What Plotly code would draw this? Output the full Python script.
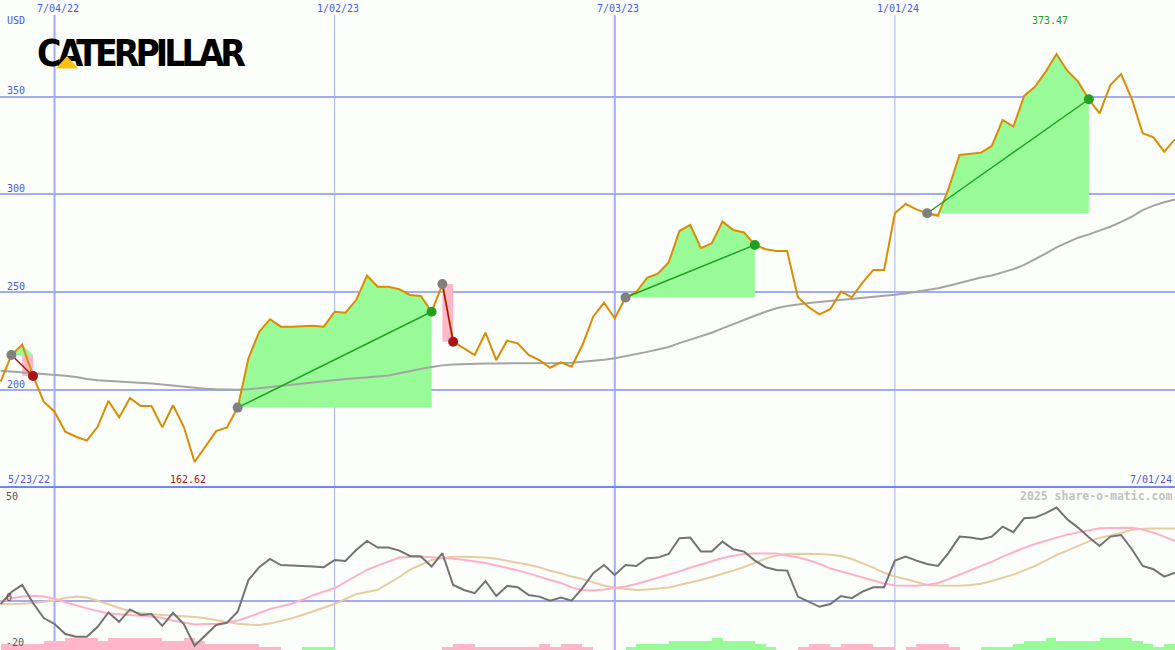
import pandas as pd
import plotly.graph_objects as go

# ---------------- data ----------------
weeks = pd.date_range("2022-05-30", periods=110, freq="7D")

price = [204.3, 217.9, 223.2, 207.2, 194.0, 188.9, 178.7, 176.1, 174.1, 181.2,
         194.5, 186.0, 195.9, 191.8, 191.8, 180.9, 192.2, 181.2, 163.2, 171.0,
         179.0, 180.9, 191.0, 216.2, 229.8, 236.2, 232.4, 232.4, 232.6, 232.9,
         232.4, 240.0, 239.5, 246.0, 258.5, 252.8, 252.8, 251.5, 248.6, 248.1,
         240.0, 254.2, 224.7, 221.3, 217.9, 229.3, 215.3, 225.2, 223.9, 217.9,
         215.3, 211.4, 214.2, 211.9, 223.0, 237.5, 244.6, 236.7, 247.3, 250.1,
         257.4, 259.5, 265.2, 281.3, 284.4, 272.5, 275.0, 286.1, 281.8, 280.6,
         274.2, 272.0, 271.1, 271.1, 247.4, 242.3, 238.7, 241.3, 250.3, 247.4,
         254.9, 261.4, 261.4, 290.4, 295.1, 292.4, 290.4, 289.1, 303.2, 320.2,
         320.7, 321.4, 324.8, 338.1, 334.7, 350.4, 355.1, 362.8, 371.8, 363.3,
         357.7, 348.7, 341.5, 356.0, 361.6, 348.7, 331.3, 329.2, 321.9, 328.2]

ma200 = [209.9, 209.5, 209.2, 208.8, 208.4, 208.0, 207.3, 206.6, 205.6, 205.0,
         204.7, 204.3, 204.0, 203.6, 203.3, 202.8, 202.2, 201.6, 201.0, 200.7,
         200.4, 200.2, 200.1, 200.4, 201.0, 201.6, 202.2, 202.8, 203.4, 204.0,
         204.6, 205.1, 205.6, 206.0, 206.4, 206.8, 207.4, 208.6, 209.8, 210.8,
         211.8, 212.6, 213.0, 213.3, 213.5, 213.6, 213.6, 213.6, 213.6, 213.6,
         213.6, 213.7, 213.8, 214.0, 214.4, 214.9, 215.5, 216.2, 217.2, 218.3,
         219.5, 220.7, 222.0, 224.0, 225.8, 227.5, 229.3, 231.5, 233.8, 236.0,
         238.0, 240.0, 241.8, 243.0, 243.8, 244.5, 245.0, 245.5, 246.0, 246.5,
         247.1, 247.7, 248.2, 248.7, 249.4, 250.2, 251.0, 252.0, 253.3, 254.8,
         256.2, 257.5, 258.6, 260.0, 261.8, 264.0, 266.8, 269.8, 272.9, 275.6,
         277.9, 279.6, 281.4, 283.5, 286.0, 288.7, 292.0, 294.3, 296.0, 297.5]

osc_main = [-1.5, 4.5, 8.0, -1.0, -8.5, -11.5, -16.5, -17.9, -17.9, -12.9,
            -5.7, -10.4, -4.2, -7.0, -6.5, -12.4, -5.9, -11.5, -22.4, -17.0,
            -12.0, -10.9, -5.4, 10.5, 16.9, 21.0, 18.0, 17.8, 17.7, 17.3,
            16.9, 20.5, 20.0, 25.5, 30.0, 26.7, 26.7, 25.2, 22.5, 22.2,
            17.2, 23.9, 8.0, 5.5, 3.9, 10.0, 2.5, 7.5, 6.9, 3.0,
            2.2, 0.2, 1.7, 0.2, 6.4, 13.9, 18.0, 13.0, 18.0, 17.5,
            21.4, 21.7, 23.5, 31.4, 31.7, 24.7, 24.7, 29.7, 25.9, 24.7,
            20.2, 16.9, 15.5, 15.2, 2.2, -0.4, -2.9, -1.5, 2.5, 1.4,
            4.7, 6.9, 6.9, 20.2, 22.2, 20.2, 18.5, 17.5, 24.2, 32.2,
            31.8, 30.9, 32.2, 37.2, 34.4, 41.4, 41.7, 43.9, 46.7, 40.9,
            36.7, 31.9, 27.5, 32.2, 33.0, 25.9, 17.5, 15.9, 12.2, 14.2]

osc_pink = [-0.2, 1.4, 2.2, 2.6, 2.2, 1.2, -0.6, -2.2, -3.7, -5.0,
            -6.2, -6.6, -6.9, -7.2, -7.7, -8.4, -9.8, -10.8, -11.8, -11.5,
            -11.5, -10.8, -9.8, -8.0, -6.0, -4.0, -2.7, -1.4, 0.6, 2.9,
            4.7, 6.5, 9.5, 12.6, 15.5, 17.7, 19.7, 21.7, 22.0, 22.2,
            21.9, 21.6, 21.1, 20.6, 19.8, 19.0, 17.8, 16.7, 15.3, 13.8,
            12.0, 10.5, 9.0, 6.8, 5.5, 5.2, 5.7, 6.4, 7.3, 8.5,
            10.0, 11.5, 13.2, 14.8, 16.6, 18.2, 20.0, 21.5, 22.6, 23.5,
            23.8, 23.8, 23.8, 22.7, 21.8, 20.4, 18.6, 16.3, 14.8, 13.2,
            11.9, 10.5, 8.8, 7.8, 7.6, 7.6, 8.1, 9.0, 11.0, 13.2,
            15.2, 17.3, 19.7, 22.2, 24.6, 26.6, 28.5, 30.2, 31.7, 33.2,
            34.2, 35.5, 36.4, 36.5, 36.6, 36.6, 35.7, 34.2, 32.2, 30.0]

osc_tan = [-1.5, -1.5, -1.4, -1.0, -0.5, 0.2, 1.5, 2.3, 1.7, 0.2,
           -1.6, -3.5, -5.1, -6.1, -6.7, -7.0, -7.2, -7.5, -8.0, -8.6,
           -9.5, -10.6, -11.4, -11.8, -12.0, -11.2, -10.1, -8.7, -7.0, -5.1,
           -3.2, -1.5, 1.0, 3.4, 4.5, 5.6, 8.8, 12.0, 15.7, 18.0,
           20.5, 21.5, 22.1, 22.1, 22.0, 21.8, 21.1, 20.2, 19.2, 18.1,
           16.9, 15.1, 13.8, 12.2, 11.0, 9.4, 7.7, 6.6, 5.9, 5.5,
           5.7, 6.2, 6.8, 8.0, 9.2, 10.5, 12.0, 13.5, 15.2, 17.0,
           19.2, 21.2, 22.7, 23.5, 23.6, 23.6, 23.5, 23.1, 22.5, 21.0,
           19.0, 16.7, 14.1, 12.2, 11.0, 9.5, 8.0, 7.7, 7.6, 7.6,
           8.0, 8.6, 10.0, 11.5, 13.2, 15.3, 17.5, 20.2, 23.0, 25.2,
           27.5, 29.8, 31.5, 32.7, 34.0, 35.6, 36.1, 36.2, 36.3, 36.3]

osc_hist = [-3.0, -3.0, -3.0, -3.0, -4.5, -4.5, -6.0, -6.0, -6.0, -4.5,
            -6.0, -6.0, -6.0, -6.0, -6.0, -4.5, -4.5, -6.0, -4.5, -3.0,
            -3.0, -3.0, -3.0, -3.0, -1.5, -1.5, 0.0, 0.0, 1.5, 1.5,
            1.5, 0.0, 0.0, 0.0, 0.0, 0.0, 0.0, 0.0, 0.0, 0.0,
            0.0, -1.5, -3.0, -3.0, -1.5, -1.5, -1.5, -1.5, -1.5, -1.5,
            -3.0, -1.5, -3.0, -3.0, -1.5, 0.0, 0.0, 0.0, 1.5, 3.0,
            3.0, 3.0, 4.5, 4.5, 4.5, 4.5, 6.0, 4.5, 4.5, 4.5,
            3.0, 1.5, 0.0, 0.0, -1.5, -3.0, -3.0, -1.5, -3.0, -3.0,
            -3.0, -1.5, -1.5, 0.0, -1.5, -3.0, -3.0, -3.0, -1.5, 0.0,
            0.0, 1.5, 1.5, 1.5, 3.0, 4.5, 4.5, 6.0, 4.5, 4.5,
            4.5, 4.5, 6.0, 6.0, 6.0, 4.5, 3.0, 1.5, 3.0, 3.0]

trade_entries = [1, 22, 41, 58, 86]   # week index of entry
trade_exits = [3, 40, 42, 70, 101]    # week index of exit

price_ticks = [200, 250, 300, 350]
osc_ticks = [50, 0, -20]
date_ticks = ["2022-07-04", "2023-01-02", "2023-07-03", "2024-01-01"]
date_tick_labels = ["7/04/22", "1/02/23", "7/03/23", "1/01/24"]
date_tick_major = [True, False, True, False]
range_start_label = "5/23/22"
range_end_label = "7/01/24"
low_label = "162.62"
high_label = "373.47"
logo_text = "CATERPILLAR"

# ---------------- style ----------------
W, H = 1175, 650
BG = "#fbfefb"
GRID = "#a3abf5"
GRID_THIN = "#aab0e0"
SEP = "#7585ee"
BLUE_TXT = "#4a58e6"
MONO = "DejaVu Sans Mono, Liberation Mono, monospace"
PRICE_C = "#dc8c00"
MA_C = "#a4a4a4"
GREEN_FILL = "#98fb98"
PINK_FILL = "#ffb6c8"
WIN_C = "#22a022"
LOSS_C = "#aa1515"
ENTRY_C = "#808080"
LOW_DOM = 163 / H
MAIN_H = H - 163
X_RANGE = ["2022-05-29 13:40", "2024-07-01 00:00"]
Y_RANGE = [150.4, 399.45]
Y2_RANGE = [-24.5, 57]


def px(x):
    return x / W


def py(y):
    return 1 - y / H


fig = go.Figure()

# trade fills
for e, x in zip(trade_entries, trade_exits):
    base = price[e]
    xs = list(weeks[e:x + 1])
    top = [max(p, base) for p in price[e:x + 1]]
    fig.add_trace(go.Scatter(
        x=xs + xs[::-1], y=top + [base] * len(xs), fill="toself",
        fillcolor=GREEN_FILL, line=dict(width=0), mode="lines",
        hoverinfo="skip", xaxis="x", yaxis="y"))
    for k in range(e + 1, x + 1):
        if price[k] < base:
            fig.add_trace(go.Scatter(
                x=[weeks[k - 1], weeks[k], weeks[k], weeks[k - 1], weeks[k - 1]],
                y=[base, base, price[k], price[k], base], fill="toself",
                fillcolor=PINK_FILL, line=dict(width=0), mode="lines",
                hoverinfo="skip", xaxis="x", yaxis="y"))

# moving average and price
fig.add_trace(go.Scatter(x=weeks, y=ma200, mode="lines",
                         line=dict(color=MA_C, width=2), xaxis="x", yaxis="y"))
fig.add_trace(go.Scatter(x=weeks, y=price, mode="lines",
                         line=dict(color=PRICE_C, width=2), xaxis="x", yaxis="y"))

# trade lines and markers
for e, x in zip(trade_entries, trade_exits):
    col = WIN_C if price[x] > price[e] else LOSS_C
    fig.add_trace(go.Scatter(x=[weeks[e], weeks[x]], y=[price[e], price[x]],
                             mode="lines", line=dict(color=col, width=1.5),
                             xaxis="x", yaxis="y"))
    fig.add_trace(go.Scatter(x=[weeks[e]], y=[price[e]], mode="markers",
                             marker=dict(color=ENTRY_C, size=10),
                             xaxis="x", yaxis="y"))
    fig.add_trace(go.Scatter(x=[weeks[x]], y=[price[x]], mode="markers",
                             marker=dict(color=col, size=10),
                             xaxis="x", yaxis="y"))

# oscillator panel
fig.add_trace(go.Bar(
    x=weeks, y=[abs(v) for v in osc_hist], base=Y2_RANGE[0],
    width=7 * 24 * 3600 * 1000, offset=0,
    marker=dict(color=[GREEN_FILL if v > 0 else PINK_FILL for v in osc_hist],
                line=dict(width=0)),
    xaxis="x2", yaxis="y2"))
fig.add_trace(go.Scatter(x=weeks, y=osc_tan, mode="lines",
                         line=dict(color="#e6cda0", width=2), xaxis="x2", yaxis="y2"))
fig.add_trace(go.Scatter(x=weeks, y=osc_pink, mode="lines",
                         line=dict(color="#ffb0c8", width=2), xaxis="x2", yaxis="y2"))
fig.add_trace(go.Scatter(x=weeks, y=osc_main, mode="lines",
                         line=dict(color="#737373", width=2), xaxis="x2", yaxis="y2"))

# logo text (on a pixel-space overlay axis so that the yellow triangle can sit on top)
fig.add_trace(go.Scatter(
    x=[37], y=[57], mode="text",
    text=[f"<span style='letter-spacing:-4px'><b>{logo_text}</b></span>"],
    textposition="middle right",
    textfont=dict(family="Liberation Sans Narrow, DejaVu Sans Condensed, sans-serif",
                  size=37, color="#000000"),
    hoverinfo="skip", xaxis="x3", yaxis="y3"))

# gridline shapes
shapes = []
for d, major in zip(date_ticks, date_tick_major):
    shapes.append(dict(type="line", xref="x", yref="paper", x0=d, x1=d,
                       y0=0, y1=py(15), layer="below",
                       line=dict(color=GRID if major else GRID_THIN,
                                 width=2 if major else 1)))
shapes.append(dict(type="line", xref="paper", yref="paper", x0=0, x1=1,
                   y0=LOW_DOM, y1=LOW_DOM, layer="above",
                   line=dict(color=SEP, width=2)))
# logo triangle (inside the first "A")
shapes.append(dict(type="path", xref="paper", yref="paper",
                   path=f"M {px(56)},{py(68.5)} L {px(67)},{py(56)} L {px(78)},{py(68.5)} Z",
                   fillcolor="#f8c010", line=dict(width=0), layer="above"))

ann = []
small = dict(family=MONO, size=10, color=BLUE_TXT)
ann.append(dict(text="USD", xref="paper", yref="paper", x=px(6), y=py(21),
                xanchor="left", yanchor="middle", showarrow=False, font=small))
for v in price_ticks:
    ann.append(dict(text=str(v), xref="paper", yref="y", x=px(6), y=v,
                    xanchor="left", yanchor="middle", yshift=6,
                    showarrow=False, font=small))
for d, lab in zip(date_ticks, date_tick_labels):
    ann.append(dict(text=lab, xref="x", yref="paper", x=d, y=py(9),
                    xanchor="center", yanchor="middle", xshift=3,
                    showarrow=False, font=small))
ann.append(dict(text=range_start_label, xref="paper", yref="paper", x=px(7), y=py(479),
                xanchor="left", yanchor="middle", showarrow=False, font=small))
ann.append(dict(text=range_end_label, xref="paper", yref="paper", x=px(1173), y=py(479),
                xanchor="right", yanchor="middle", showarrow=False, font=small))
i_lo = price.index(min(price))
i_hi = price.index(max(price))
ann.append(dict(text=low_label, xref="x", yref="paper", x=weeks[i_lo], y=py(479),
                xanchor="center", yanchor="middle", xshift=-7, showarrow=False,
                font=dict(family=MONO, size=10, color="#a01818")))
ann.append(dict(text=high_label, xref="x", yref="paper", x=weeks[i_hi], y=py(21),
                xanchor="center", yanchor="middle", xshift=-6, showarrow=False,
                font=dict(family=MONO, size=10, color="#229a22")))
ann.append(dict(text="<b>2025 share-o-matic.com</b>", xref="paper", yref="paper",
                x=px(1173), y=py(496), xanchor="right", yanchor="middle",
                showarrow=False, font=dict(family=MONO, size=11.5, color="#c2c2c2")))
osc_shift = {50: 4.5, 0: 4, -20: -1.5}
for v in osc_ticks:
    ann.append(dict(text=str(v), xref="paper", yref="y2", x=px(5), y=v,
                    xanchor="left", yanchor="middle", yshift=osc_shift[v],
                    showarrow=False, font=dict(family=MONO, size=10, color="#555555")))
for a in ann:
    a.setdefault("borderpad", 0)

fig.update_layout(
    width=W, height=H, margin=dict(l=0, r=0, t=0, b=0),
    paper_bgcolor=BG, plot_bgcolor=BG, showlegend=False,
    bargap=0,
    xaxis=dict(domain=[0, 1], range=X_RANGE, visible=False, anchor="y"),
    xaxis2=dict(domain=[0, 1], range=X_RANGE, visible=False, anchor="y2", matches="x"),
    xaxis3=dict(domain=[0, 1], range=[0, W], visible=False, overlaying="x", anchor="y3"),
    yaxis=dict(domain=[LOW_DOM, 1], range=Y_RANGE, tickvals=price_ticks,
               showticklabels=False, showgrid=True, gridcolor=GRID, gridwidth=2,
               zeroline=False, anchor="x"),
    yaxis2=dict(domain=[0, LOW_DOM], range=Y2_RANGE, tickvals=[0],
                showticklabels=False, showgrid=True, gridcolor=GRID, gridwidth=2,
                zeroline=False, anchor="x2"),
    yaxis3=dict(domain=[LOW_DOM, 1], range=[MAIN_H, 0], visible=False,
                overlaying="y", anchor="x3"),
    shapes=shapes, annotations=ann,
)

fig.write_html("out.html", config={"displayModeBar": False},
               post_script="document.body.style.margin='0';document.body.style.padding='0';")
